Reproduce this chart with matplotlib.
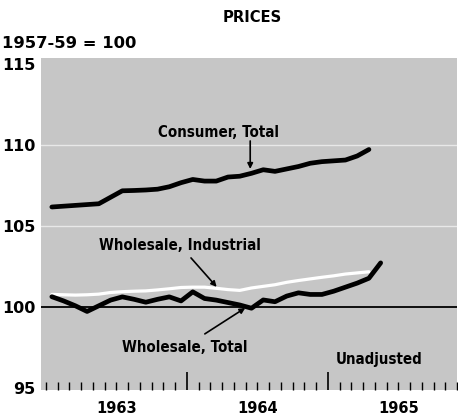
import matplotlib
matplotlib.use("Agg")
import matplotlib.pyplot as plt
from matplotlib.transforms import blended_transform_factory
import numpy as np

# ---- data (monthly, Jan 1963 onward; 1957-59 = 100) ----
consumer_total = [106.2, 106.25, 106.3, 106.35, 106.4, 106.8, 107.2, 107.22, 107.25,
                  107.3, 107.45, 107.7, 107.9, 107.8, 107.8, 108.05, 108.1, 108.28,
                  108.5, 108.4, 108.55, 108.7, 108.9, 109.0, 109.05, 109.1, 109.35, 109.75]
wholesale_total = [100.66, 100.4, 100.1, 99.75, 100.1, 100.45, 100.65, 100.5, 100.32,
                   100.5, 100.65, 100.4, 100.96, 100.55, 100.45, 100.3, 100.15, 99.95,
                   100.46, 100.35, 100.7, 100.9, 100.8, 100.8, 101.0, 101.25, 101.5,
                   101.8, 102.75]
wholesale_industrial = [100.8, 100.78, 100.76, 100.78, 100.82, 100.92, 100.97, 101.0,
                        101.02, 101.08, 101.15, 101.23, 101.25, 101.25, 101.18, 101.1,
                        101.05, 101.2, 101.3, 101.4, 101.55, 101.66, 101.76, 101.86,
                        101.95, 102.06, 102.13, 102.2]
year_labels = ["1963", "1964", "1965"]
y_ticks = [95, 100, 105, 110, 115]

FIG_W, FIG_H = 458, 415
fig = plt.figure(figsize=(FIG_W / 100, FIG_H / 100), dpi=100)
L, R, T, B = 41, 457, 58, 390
ax = fig.add_axes([L / FIG_W, 1 - B / FIG_H, (R - L) / FIG_W, (B - T) / FIG_H])

ax.set_facecolor("#c6c6c6")
for s in ax.spines.values():
    s.set_visible(False)

m_c = np.arange(len(consumer_total))
m_w = np.arange(len(wholesale_total))
m_i = np.arange(len(wholesale_industrial))

for yv in (105, 110):
    ax.axhline(yv, color="white", lw=1.0, alpha=0.6, zorder=1)
ax.axhline(100, color="black", lw=1.3, zorder=2)

ax.plot(m_i, wholesale_industrial, color="white", lw=2.3, solid_capstyle="round", zorder=3)
ax.plot(m_w, wholesale_total, color="black", lw=3.4, solid_capstyle="round",
        solid_joinstyle="round", zorder=4)
ax.plot(m_c, consumer_total, color="black", lw=3.4, solid_capstyle="round",
        solid_joinstyle="round", zorder=4)

px = 11.9
x0 = -(52 - L) / px
ax.set_xlim(x0, (R - 52) / px)
ax.set_ylim(94.9, 115.4)

def tx(xp):
    return x0 + (xp - L) / px

def ty(yp):
    return 100 + (307.5 - yp) / 16.2

ax.set_yticks(y_ticks)
ax.set_yticklabels([str(v) for v in y_ticks], fontsize=11.5, fontweight="bold")
ax.tick_params(axis="y", length=0, pad=4)
ax.set_xticks([11.5, 23.5])
ax.set_xticklabels([])
ax.set_xticks(np.arange(-0.5, 35, 1.0), minor=True)
ax.tick_params(axis="x", which="major", direction="in", length=13, width=1.2, color="black")
ax.tick_params(axis="x", which="minor", direction="in", length=6, width=1.0, color="black")

trans = blended_transform_factory(ax.transData, fig.transFigure)
for i, lab in enumerate(year_labels):
    ax.text(5.5 + 12 * i, 1 - 408 / FIG_H, lab, transform=trans, ha="center", va="center",
            fontsize=10.5, fontweight="bold")

tkw = dict(fontsize=10.8, fontweight="bold", family="DejaVu Sans",
           fontstretch="condensed", ha="center", va="center", zorder=6)
fig.text(252 / FIG_W, 1 - 17 / FIG_H, "PRICES", **{**tkw, "fontsize": 11.8})
fig.text(2 / FIG_W, 1 - 43 / FIG_H, "1957-59 = 100", ha="left", va="center",
         fontsize=11.8, fontweight="bold")

ax.text(tx(221), ty(133), "Consumer, Total", **tkw)
ax.text(tx(182), ty(246), "Wholesale, Industrial", **tkw)
ax.text(tx(187), ty(348), "Wholesale, Total", **tkw)
ax.text(tx(384), ty(360), "Unadjusted", **tkw)

akw = dict(arrowstyle="-|>", color="black", lw=1.2, mutation_scale=8, shrinkA=0, shrinkB=0)
for (xa, ya), (xb, yb) in [((253, 141), (253, 169)),
                           ((193, 258), (219, 287)),
                           ((207, 334), (248, 308))]:
    ax.annotate("", xy=(tx(xb), ty(yb)), xytext=(tx(xa), ty(ya)), arrowprops=akw, zorder=6)

fig.savefig("out.png", dpi=100)
